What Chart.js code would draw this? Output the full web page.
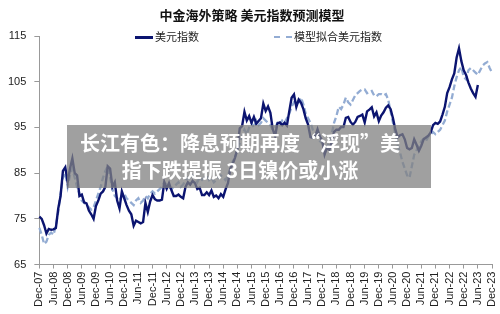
<!DOCTYPE html>
<html>
<head>
<meta charset="utf-8">
<script src="https://cdn.jsdelivr.net/npm/chart.js@4.4.1/dist/chart.umd.min.js"></script>
<style>
  html, body { margin: 0; padding: 0; background: #fff; }
  #wrap { position: relative; width: 500px; height: 314px; }
  #title { position: absolute; left: 0; width: 504px; top: 6px; text-align: center; font: bold 13px "Noto Sans CJK SC", sans-serif; color: #111; line-height: 18px; }
  .legend { position: absolute; top: 29px; font: 11px "Noto Sans CJK SC", sans-serif; color: #222; white-space: nowrap; line-height: 14px; }
  .legend span.line { display: inline-block; width: 18px; height: 0; vertical-align: middle; margin-right: 2px; position: relative; top: -1px; }
  #banner { position: absolute; left: 67px; top: 125px; width: 364px; height: 63px; background: rgba(128,128,128,0.75);
    color: #fff; font: bold 20px "Noto Sans CJK SC", sans-serif; line-height: 27px; text-align: center;
    box-sizing: border-box; padding: 4px 18px 0 0; }
</style>
</head>
<body>
<div id="wrap">
  <canvas id="chart" width="500" height="314"></canvas>
  <div id="title">中金海外策略 美元指数预测模型</div>
  <div class="legend" style="left:135px"><span class="line" style="border-top:3px solid #0b1470"></span>美元指数</div>
  <div class="legend" style="left:274px"><span class="line" style="border-top:2.5px dashed #93acd3"></span>模型拟合美元指数</div>
  <div id="banner">长江有色：降息预期再度“浮现”美<br>指下跌提振 3日镍价或小涨</div>
</div>
<script>
// monthly, Dec-07 .. Dec-23
const monthNames = ['Jan','Feb','Mar','Apr','May','Jun','Jul','Aug','Sep','Oct','Nov','Dec'];
const months = [];
for (let i = 0; i <= 192; i++) {
    const m = 11 + i;
    const yr = 7 + Math.floor(m / 12);
    months.push(monthNames[m % 12] + '-' + String(yr).padStart(2, '0'));
}

// 美元指数 (Dec-07 .. Jun-23)
const usdIndex = [
    75.5,
    75.0, 73.6, 71.8, 72.8, 72.6, 72.7, 73.0, 77.2, 80.0, 85.5, 86.3, 83.0,
    86.0, 88.2, 85.0, 84.5, 80.0, 80.3, 78.6, 78.4, 76.8, 76.0, 75.0, 77.8,
    79.0, 80.5, 81.0, 82.0, 86.5, 86.0, 82.0, 83.0, 79.0, 77.3, 81.0, 79.5,
    78.0, 76.8, 76.0, 73.5, 74.6, 74.3, 74.0, 74.3, 78.5, 76.5, 78.8, 80.2,
    79.3, 79.0, 79.0, 79.2, 83.0, 81.6, 82.8, 81.3, 80.0, 80.0, 80.3, 79.8,
    79.5, 82.0, 83.0, 82.5, 83.3, 82.8, 81.5, 81.8, 80.2, 80.2, 80.8, 80.2,
    81.2, 79.8, 80.1, 79.5, 80.4, 79.8, 81.5, 82.8, 86.0, 87.0, 88.4, 90.3,
    94.8, 95.3, 98.4, 96.5, 97.5, 96.0, 97.3, 95.8, 96.4, 97.0, 100.2, 98.6,
    99.6, 98.2, 94.6, 93.1, 95.9, 96.1, 95.5, 96.0, 95.4, 98.5, 101.5, 102.2,
    99.5, 101.1, 100.4, 99.0, 97.0, 95.6, 92.9, 92.7, 93.1, 94.6, 93.0, 92.1,
    89.1, 90.6, 90.1, 91.8, 94.0, 94.5, 94.5, 95.1, 95.1, 97.1, 97.3, 96.2,
    95.6, 96.2, 97.3, 97.5, 97.8, 96.1, 98.5, 98.9, 99.4, 97.4, 98.3, 96.4,
    97.6, 98.3, 99.3, 99.8, 99.0, 97.0, 94.5, 92.8, 93.3, 93.5, 92.4, 90.5,
    90.2, 90.5, 92.4, 91.2, 89.9, 91.0, 92.4, 92.8, 93.2, 93.9, 95.5, 96.0,
    95.8, 96.3, 97.8, 99.5, 102.5, 103.8, 105.5, 106.8, 110.3, 112.3, 109.5, 107.5,
    106.5, 104.8, 103.5, 102.5, 101.7, 104.3
];

// 模型拟合美元指数 (Dec-07 .. Dec-23)
const modelIndex = [
    73.0,
    71.5, 69.5, 70.0, 71.5, 72.0, 71.5, 73.5, 76.5, 80.5, 84.0, 85.0, 82.0,
    84.5, 86.0, 84.0, 82.0, 80.5, 79.0, 78.5, 78.0, 77.5, 77.0, 77.5, 79.0,
    80.5, 82.0, 84.0, 85.5, 86.5, 84.0, 81.5, 80.0, 79.5, 79.0, 80.0, 80.5,
    79.5, 79.0, 78.5, 78.0, 79.0, 79.5, 78.5, 79.0, 80.0, 79.5, 80.5, 81.0,
    80.5, 81.0, 81.5, 82.0, 83.0, 82.5, 82.0, 81.5, 82.0, 82.5, 83.0, 82.0,
    82.5, 83.5, 84.0, 83.5, 84.5, 84.0, 83.0, 84.0, 83.5, 84.0, 84.5, 83.5,
    84.0, 83.0, 83.5, 84.0, 84.5, 84.0, 83.5, 84.5, 86.0, 87.5, 88.5, 90.0,
    91.5, 93.0, 94.5, 93.5, 95.0, 96.0, 95.0, 96.5, 95.5, 96.0, 97.0, 96.5,
    96.0, 95.5, 94.5, 95.0, 96.0, 95.5, 96.5, 96.0, 97.0, 98.0, 99.5, 100.5,
    101.0, 100.5, 101.5, 100.0, 98.0, 97.0, 96.0, 94.5, 93.5, 93.0, 92.0, 91.5,
    91.0, 90.5, 92.0, 93.5, 96.0, 97.5, 99.5, 99.0, 100.0, 101.5, 100.5, 100.0,
    101.0, 102.0, 102.5, 103.0, 103.3, 103.3, 102.5, 102.8, 103.0, 102.0, 101.8, 102.3,
    102.3, 102.0, 102.3, 101.0, 98.5, 96.0, 93.5, 91.0, 89.5, 87.5, 86.0, 84.5,
    84.0, 86.5, 89.0, 90.0, 91.0, 92.0, 92.5, 92.0, 93.0, 93.5, 94.0, 93.5,
    94.0, 94.5, 95.5, 96.5, 98.5, 100.0, 101.5, 104.0, 106.0, 107.5, 108.2, 106.0,
    105.5, 107.5, 108.0, 107.5, 107.0, 106.5, 107.5, 108.5, 109.0, 109.3, 108.0, 107.0
];

const yMin = 65, yMax = 115, yStep = 10;
const tickEvery = 6;
const axisGray = '#999';
const sansFont = '"Liberation Sans", Arial, sans-serif';

const ctx = document.getElementById('chart').getContext('2d');
const chart = new Chart(ctx, {
    type: 'line',
    data: {
        labels: months,
        datasets: [{
            label: '美元指数',
            data: usdIndex,
            borderColor: '#0b1470',
            borderWidth: 2.4,
            pointRadius: 0,
            tension: 0
        }, {
            label: '模型拟合美元指数',
            data: modelIndex,
            borderColor: '#93acd3',
            borderWidth: 2.3,
            borderDash: [6, 3],
            pointRadius: 0,
            tension: 0
        }]
    },
    options: {
        responsive: false,
        animation: false,
        layout: { padding: { left: 0, right: 8, top: 36, bottom: 4 } },
        plugins: {
            legend: { display: false },
            tooltip: { enabled: false },
            title: { display: false }
        },
        scales: {
            x: {
                border: { color: axisGray },
                grid: {
                    drawOnChartArea: false,
                    tickLength: 4,
                    color: c => (c.index % tickEvery === 0 ? axisGray : 'rgba(0,0,0,0)')
                },
                ticks: {
                    autoSkip: false,
                    maxRotation: 90,
                    minRotation: 90,
                    padding: 3,
                    color: '#222',
                    font: { family: sansFont, size: 11 },
                    callback: (v, i) => (i % tickEvery === 0 ? months[i] : '')
                },
                afterFit: s => { s.paddingRight = 0; }
            },
            y: {
                min: yMin,
                max: yMax,
                border: { color: axisGray },
                grid: { drawOnChartArea: false, tickLength: 5, color: axisGray },
                ticks: {
                    stepSize: yStep,
                    padding: 8,
                    color: '#222',
                    font: { family: sansFont, size: 11 }
                }
            }
        }
    }
});
</script>
</body>
</html>
